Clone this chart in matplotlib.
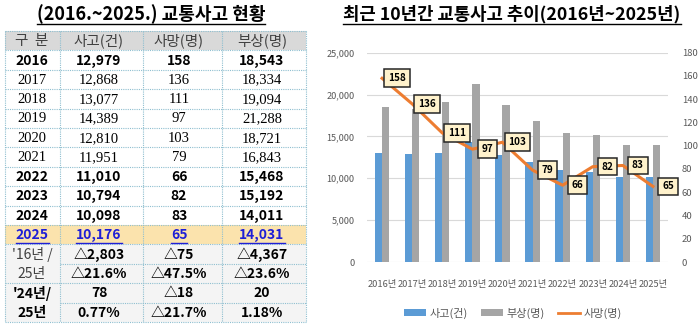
import numpy as np
import matplotlib
matplotlib.use("Agg")
import matplotlib.pyplot as plt
from matplotlib.patches import Rectangle, Patch
from matplotlib.lines import Line2D

KR = ["Noto Sans CJK KR", "DejaVu Sans"]
SERIF = ["Liberation Serif", "Noto Sans CJK KR"]
plt.rcParams["font.family"] = KR

# ---- data ----
years = ["2016", "2017", "2018", "2019", "2020", "2021", "2022", "2023", "2024", "2025"]
accidents = [12979, 12868, 13077, 14389, 12810, 11951, 11010, 10794, 10098, 10176]
deaths = [158, 136, 111, 97, 103, 79, 66, 82, 83, 65]
injuries = [18543, 18334, 19094, 21288, 18721, 16843, 15468, 15192, 14011, 14031]

header = ["구  분", "사고(건)", "사망(명)", "부상(명)"]
cmp_16_25 = [["'16년 /", "△2,803", "△75", "△4,367"],
             ["25년", "△21.6%", "△47.5%", "△23.6%"]]
cmp_24_25 = [["'24년/", "78", "△18", "20"],
             ["25년", "0.77%", "△21.7%", "1.18%"]]

left_title = "(2016.~2025.) 교통사고 현황"
right_title = "최근 10년간 교통사고 추이(2016년~2025년)"
x_labels = [y + "년" for y in years]
legend_labels = ["사고(건)", "부상(명)", "사망(명)"]

BLUE = "#5b9bd5"
GREY = "#a5a5a5"
ORANGE = "#ed7d31"
TXT = "#595959"

fig = plt.figure(figsize=(7.0, 3.28), dpi=100)
lay = fig.add_axes([0, 0, 1, 1])
lay.set_xlim(0, 700)
lay.set_ylim(328, 0)
lay.axis("off")

# ---- table ----
col_edges = [5, 60, 143, 222, 306]
col_cx = [32, 99, 179, 262]
top = 31.0
rh = 19.4
grid_c = "#8fbfd0"

n_rows = 1 + len(years) + 4
bottom = top + rh * n_rows

def row_y(i):
    return top + rh * i

# backgrounds
lay.add_patch(Rectangle((col_edges[0], row_y(0)), col_edges[-1] - col_edges[0], rh,
                        fc="#d9d9d9", ec="none"))
lay.add_patch(Rectangle((col_edges[0], row_y(10)), col_edges[-1] - col_edges[0], rh,
                        fc="#fbe3ad", ec="none"))
lay.add_patch(Rectangle((col_edges[0], row_y(11)), col_edges[-1] - col_edges[0], rh * 4,
                        fc="#f4f4f4", ec="none"))

# grid lines
for i in range(n_rows + 1):
    y = row_y(i)
    x0 = col_edges[1] if i in (12, 14) else col_edges[0]
    lay.plot([x0, col_edges[-1]], [y, y], color=grid_c, lw=0.8, ls=(0, (1, 1)))
for x in col_edges:
    lay.plot([x, x], [top, bottom], color=grid_c, lw=0.8, ls=(0, (1, 1)))

underline_items = []

def cell(ci, ri, s, **kw):
    return lay.text(col_cx[ci], row_y(ri) + rh / 2 + 0.5, s, ha="center", va="center", **kw)

for ci, s in enumerate(header):
    cell(ci, 0, s, fontsize=10.5, color="#404040", family=KR)

for k, yr in enumerate(years):
    ri = k + 1
    vals = [yr, f"{accidents[k]:,}", f"{deaths[k]}", f"{injuries[k]:,}"]
    for ci, s in enumerate(vals):
        if yr in ("2017", "2018", "2019", "2020", "2021"):
            cell(ci, ri, s, fontsize=10.5, color="black", family=SERIF)
        elif yr == "2025":
            t = cell(ci, ri, s, fontsize=10, fontweight="bold", color="#1f1fd6", family=KR)
            underline_items.append((t, "#1f1fd6", 1.0))
        else:
            cell(ci, ri, s, fontsize=10, fontweight="bold", color="black", family=KR)

for j, row in enumerate(cmp_16_25):
    for ci, s in enumerate(row):
        if ci == 0:
            cell(ci, 11 + j, s, fontsize=10, color="#404040", family=KR)
        else:
            cell(ci, 11 + j, s, fontsize=10, fontweight="bold", color="black", family=KR)
for j, row in enumerate(cmp_24_25):
    for ci, s in enumerate(row):
        cell(ci, 13 + j, s, fontsize=10, fontweight="bold", color="black", family=KR)

lt = lay.text(151, 14, left_title, ha="center", va="center", fontsize=13,
              fontweight="bold", color="black", family=KR)
rt = lay.text(512, 14, right_title, ha="center", va="center", fontsize=12.8,
              fontweight="bold", color="black", family=KR)
underline_items.append((lt, "black", 1.0))
underline_items.append((rt, "black", 1.0))

# ---- chart ----
W, H = 700, 328
ax_l, ax_r, ax_t, ax_b = 367, 668, 52.7, 262
ax = fig.add_axes([ax_l / W, 1 - ax_b / H, (ax_r - ax_l) / W, (ax_b - ax_t) / H])
ax.patch.set_alpha(0)
x = np.arange(len(years))
bw = 0.24
ax.bar(x - bw / 2, accidents, width=bw, color=BLUE, zorder=2)
ax.bar(x + bw / 2, injuries, width=bw, color=GREY, zorder=2)
ax.set_xlim(-0.5, len(years) - 0.5)
ax.set_ylim(0, 25000)
ax.set_yticks(np.arange(0, 25001, 5000))
ax.set_yticklabels([f"{v:,}" for v in range(0, 25001, 5000)])
ax.yaxis.grid(True, color="#d9d9d9", lw=0.8, zorder=0)
ax.set_axisbelow(True)
ax.set_xticks(x)
ax.set_xticklabels(x_labels)
for s in ax.spines.values():
    s.set_visible(False)
ax.tick_params(axis="y", length=0, pad=9, labelsize=6.6, labelcolor=TXT)
ax.tick_params(axis="x", length=0, pad=13, labelsize=6.7, labelcolor=TXT)

ax2 = ax.twinx()
ax2.set_ylim(0, 180)
ax2.set_yticks(np.arange(0, 181, 20))
ax2.plot(x, deaths, color=ORANGE, lw=2.2, zorder=3)
for s in ax2.spines.values():
    s.set_visible(False)
ax2.tick_params(axis="y", length=0, pad=10, labelsize=6.8, labelcolor=TXT)
for xi, d in zip(x, deaths):
    ax2.annotate(str(d), (xi, d), xytext=(15, 0), textcoords="offset pixels",
                 ha="center", va="center", fontsize=7.2, fontweight="bold",
                 color="black", zorder=5,
                 bbox=dict(boxstyle="square,pad=0.38", fc="#fff2cc", ec="#262626", lw=1.1))

handles = [Patch(fc=BLUE, ec="none"), Patch(fc=GREY, ec="none"),
           Line2D([0], [0], color=ORANGE, lw=2)]
fig.legend(handles, legend_labels, loc="center", bbox_to_anchor=(513 / W, 1 - 313 / H),
           ncol=3, frameon=False, fontsize=8, labelcolor=TXT, handlelength=2.0,
           handleheight=0.5, columnspacing=1.2, handletextpad=0.3)

# underlines
fig.canvas.draw()
r = fig.canvas.get_renderer()
inv = lay.transData.inverted()
for t, c, lw in underline_items:
    bb = t.get_window_extent(r)
    (x0, y0), (x1, y1) = inv.transform([[bb.x0, bb.y0], [bb.x1, bb.y1]])
    lay.plot([x0, x1], [y0 + 0.5, y0 + 0.5], color=c, lw=lw)

fig.savefig("out.png", dpi=100)
